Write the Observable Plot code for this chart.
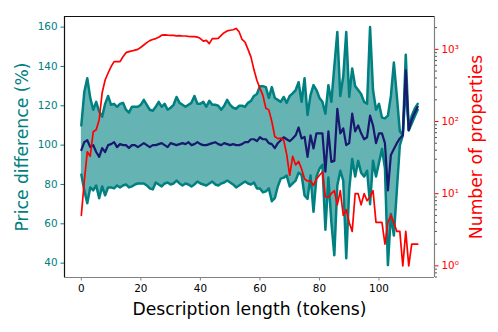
<!DOCTYPE html>
<html><head><meta charset="utf-8">
<script src="https://cdn.jsdelivr.net/npm/d3@7"></script>
<script src="https://cdn.jsdelivr.net/npm/@observablehq/plot@0.6"></script>
<style>
html,body{margin:0;padding:0;background:#fff;}
#wrap{position:relative;width:498px;height:332px;}
#wrap svg{position:absolute;left:0;top:0;}
</style></head><body><div id="wrap"></div>
<script>
const tokens = [0,1,2,3,4,5,6,7,8,9,10,11,12,13,14,15,16,17,18,19,20,21,22,23,24,25,26,27,28,29,30,31,32,33,34,35,36,37,38,39,40,41,42,43,44,45,46,47,48,49,50,51,52,53,54,55,56,57,58,59,60,61,62,63,64,65,66,67,68,69,70,71,72,73,74,75,76,77,78,79,80,81,82,83,84,85,86,87,88,89,90,91,92,93,94,95,96,97,98,99,100,101,102,103,104,105,106,107,108,109,110,111,112,113];
const upper = [110,127,134,124,118,122,117,114.5,121,125,
120.5,121,119.5,121,121.5,118,116.5,119.5,119.5,119.5,
120.5,123,120.5,118,117.5,119.5,122,119.5,121,118,
119,120.5,124.5,121.5,120.5,119.5,120.5,121.5,125,121,
121,122,119.5,122.5,120.5,120.5,120,118,120,123,
120.5,119,118.5,120,120,119.5,121.5,122.5,125,126,
130,130,129.5,124,129.5,124,123,122,124.5,121.5,
125,126.3,128,132,122,134,115.3,125.4,130.5,128,
124,122,116,130.5,122,140,157.5,125,135,157.5,
124.6,139,130,128,126,122,121,160,128,118,
121,114,113.6,115,125,142,125,107,105,146,
107.6,115,118.5,121];
const mean = [97.5,101.5,102.5,99,100,96.5,94,98.5,96.5,100,
100.5,101.5,99,100.5,100,100,98.5,100,100,99,
100,101,100,99,100,100,100.5,101,100,99,
101,100.5,100,100.5,101,100.5,101.5,100,100.5,101.5,
100.5,100,100,100.5,101,101.5,100.5,100,101,100.5,
100,100.5,100,100,100.5,101.5,101.5,103,103,102,
104,103,103,101,100.5,98.5,101,102.5,104,103,
102,103.4,105,109,103.4,104.2,94,105,98.3,106,
106,106,86.5,107,91.5,92,118.5,106,108.5,100,
101,116,107,110,106,103,104,115,110,101,
106,106,101,77,95,98,101,103.4,105,138,
107.6,113,116.5,119.5];
const lower = [85,77,70.5,78.5,77,79.5,73,79,74.5,78.5,
78.5,78,79.5,78.5,79.5,80,78.5,79,80,80.5,
80.5,80.5,79.5,78,77.5,81,80,79,80.5,81,
80,80.5,82,80.5,79.5,80.5,80,79,80,81.5,
80.5,80,79.5,80.5,81.5,80,79.5,80.5,81,82,
81,80,78.5,79.5,80.5,81.5,80.5,80,81,78,
78,76,76.5,78,71.5,73,79,83,83.5,84.5,
79,80.5,82,86,84.8,74.4,72.7,84.6,66.1,84,
88,90,57,83.5,61,44,79.5,87,82,42.5,
77.4,93,84,92,86,84,87,70,92,84,
91,98,88.4,39,65,54,77,99.8,105,130,
107.6,111,114.5,118];
const count = [5,15,38,33,72,77,106,250,376,470,
575,675,675,675,790,900,930,950,975,1000,
1070,1150,1240,1320,1370,1410,1470,1570,1590,1570,
1560,1560,1540,1550,1530,1530,1510,1500,1500,1480,
1410,1300,1330,1200,1410,1410,1420,1560,1700,1800,
1840,1870,1950,1750,1370,1260,1000,780,520,370,
290,230,153,145,100,62,58,59,55,35,
18,33,25,28,22,16,15,15,13,16,
18,20,9,9,10,11,7,11,5,6,
4,3,10,10,7,10,8,9,11,4,
4,4,2,4,5,4,3,3,1,3,
1,2,2,2];

const xTicks = [0,20,40,60,80,100];
const yTicks = [40,60,80,100,120,140,160];
const y2Major = [1,10,100,1000];
const y2MajorLabels = ["10\u2070","10\u00b9","10\u00b2","10\u00b3"];
const y2Minor = [0.7,0.8,0.9,2,3,4,5,6,7,8,9,20,30,40,50,60,70,80,90,200,300,400,500,600,700,800,900,2000];
const xLabel = "Description length (tokens)";
const yLabel = "Price difference (%)";
const y2Label = "Number of properties";

const xDomain = [-5.65, 118.65];
const yDomain = [32.7, 165.4];
const y2Domain = [0.69, 2851];

const data = tokens.map((t, i) => ({t, upper: upper[i], lower: lower[i], mean: mean[i], count: count[i]}));

const W = 498, H = 332;
const M = {marginLeft: 64, marginRight: 64, marginTop: 16, marginBottom: 55};
const font = "DejaVu Sans";
const style = {fontFamily: font, fontSize: "10.4px", background: "transparent", overflow: "visible"};
const TEAL = "#008080";
const LABEL = 17.2;

const chart1 = Plot.plot({
  width: W, height: H, ...M, style,
  x: {domain: xDomain},
  y: {domain: yDomain},
  marks: [
    Plot.areaY(data, {x: "t", y1: "lower", y2: "upper", fill: TEAL, fillOpacity: 0.6}),
    Plot.lineY(data, {x: "t", y: "upper", stroke: TEAL, strokeWidth: 2.5}),
    Plot.lineY(data, {x: "t", y: "lower", stroke: TEAL, strokeWidth: 2.5}),
    Plot.lineY(data, {x: "t", y: "mean", stroke: "#191970", strokeWidth: 2.2}),
    Plot.ruleX([xDomain[0]], {stroke: "#111", strokeWidth: 1.2}),
    Plot.ruleY([yDomain[1]], {stroke: "#111", strokeWidth: 1.2}),
    Plot.axisY({ticks: yTicks, tickSize: 3.5, tickPadding: 3.5, color: TEAL, label: null}),
    Plot.axisX({ticks: xTicks, tickSize: 3.5, tickPadding: 3.5, stroke: "#808080", fill: "black", label: null}),
    Plot.text([yLabel], {frameAnchor: "left", dx: -42, rotate: -90, fill: TEAL, fontSize: LABEL, lineAnchor: "middle", textAnchor: "middle"}),
    Plot.text([xLabel], {frameAnchor: "bottom", dy: 32, fill: "black", fontSize: LABEL, lineAnchor: "middle", textAnchor: "middle"})
  ]
});

const chart2 = Plot.plot({
  width: W, height: H, ...M, style,
  x: {domain: xDomain, axis: null},
  y: {type: "log", domain: y2Domain},
  marks: [
    Plot.lineY(data, {x: "t", y: "count", stroke: "red", strokeWidth: 1.7}),
    Plot.ruleY([y2Domain[0]], {stroke: "#808080", strokeWidth: 1.2}),
    Plot.ruleX([xDomain[1]], {stroke: "#808080", strokeWidth: 1.2}),
    Plot.axisY({anchor: "right", ticks: y2Minor, tickSize: 2, text: null, stroke: "#555", label: null}),
    Plot.axisY({anchor: "right", ticks: y2Major, tickSize: 3.5, tickPadding: 3.5, color: "red", label: null,
      tickFormat: (d) => y2MajorLabels[y2Major.indexOf(d)]}),
    Plot.text([y2Label], {frameAnchor: "right", dx: 42, rotate: -90, fill: "red", fontSize: LABEL, lineAnchor: "middle", textAnchor: "middle"})
  ]
});

const wrap = document.getElementById("wrap");
wrap.appendChild(chart1);
wrap.appendChild(chart2);
</script>
</body></html>
